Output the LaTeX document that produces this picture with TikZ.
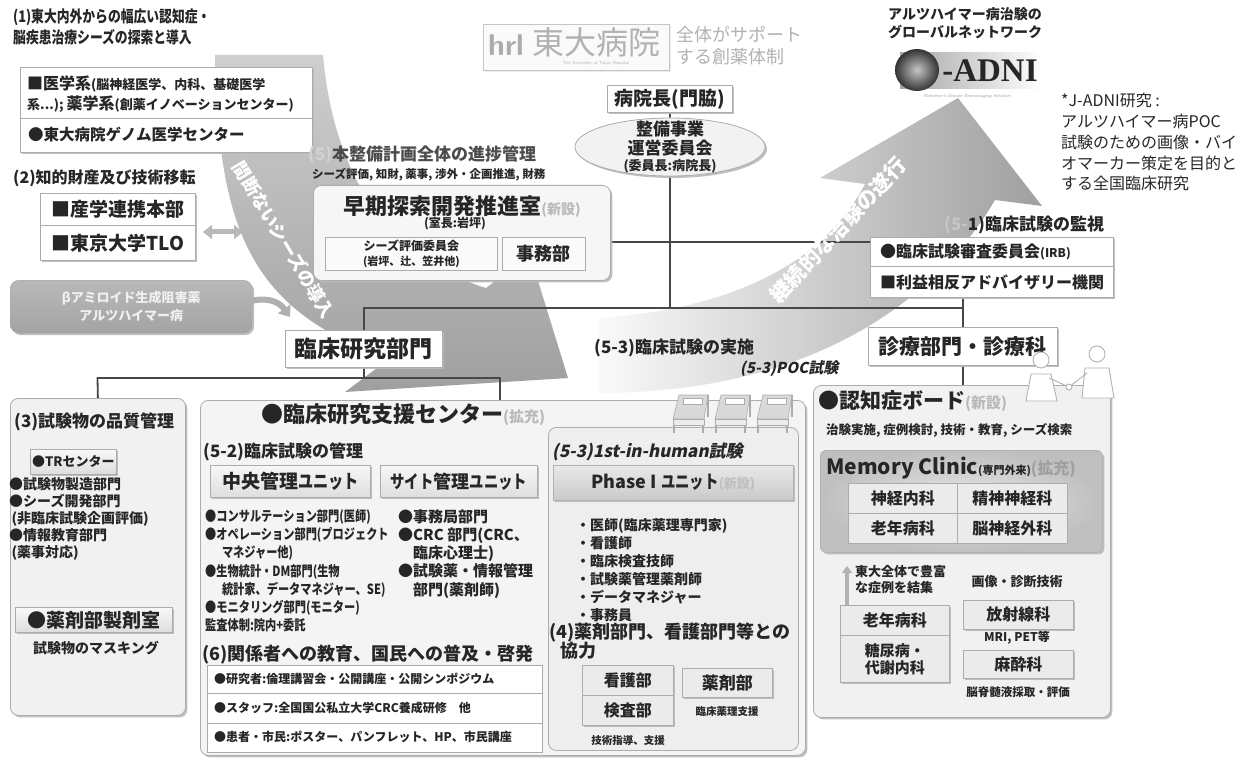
\documentclass[tikz,border=0pt]{standalone}
\usepackage{fontspec}
\setmainfont{Noto Sans CJK JP}
\newfontfamily\cjkn{Noto Sans CJK JP}[FakeStretch=0.8]
\newfontfamily\cjki{Noto Sans CJK JP}[FakeSlant=0.2]
\newfontfamily\logoserif{Liberation Serif}
\usetikzlibrary{shapes.geometric,shadows,arrows.meta,calc}
\newcommand\fz[1]{\fontsize{#1}{#1}\selectfont}
\pgfdeclarelayer{back}
\pgfdeclarelayer{links}
\pgfsetlayers{back,links,main}
\tikzset{
  bedicon/.pic={
    \filldraw[draw=gray!65,fill=gray!30,line width=0.6pt] (8,2) -- (37,2) -- (33,26) -- (2,26) -- cycle;
    \filldraw[draw=gray!65,fill=gray!15,line width=0.6pt] (2,26) rectangle (33,32);
    \draw[gray!65,line width=1.2pt] (3,32) -- (3,40) (32,32) -- (32,40) (37,2) -- (37,24);
    \filldraw[draw=gray!65,fill=white,line width=0.5pt] (12,5) rectangle (31,11);
  }
}
\begin{document}
\begin{tikzpicture}[x=1pt,y=-1pt,
  every node/.style={inner sep=0pt,text=black!85},
  bx/.style={draw=gray!65,line width=0.8pt,fill=white,anchor=north west},
  shd/.style={drop shadow={shadow xshift=2pt,shadow yshift=-2pt,fill=gray!55,opacity=0.9}},
  panel/.style={bx,rounded corners=8pt,fill=gray!11},
  cell/.style={bx,fill=gray!16},
  grad/.style={bx,top color=gray!6,bottom color=gray!26},
  orgline/.style={draw=black!72,line width=1.8pt},
  lbl/.style={anchor=west,font=\bfseries},
  ctr/.style={font=\bfseries},
  arrowtext/.style={font=\bfseries\fz{18},text=white},
]
\useasboundingbox (0,0) rectangle (1246,759);

% ---------- page and the two large curved arrows ----------
\begin{pgfonlayer}{back}
\fill[white] (0,0) rectangle (1246,759);
\shade[top color=gray!38,bottom color=gray!75]
  (215,55) -- (323,55) .. controls (335,190) and (400,262) .. (486,288)
  -- (530,255) -- (568,378) -- (345,392) -- (389,359)
  .. controls (250,310) and (218,230) .. (215,55) -- cycle;
\shade[left color=gray!4,right color=gray!75]
  (598,318) .. controls (720,310) and (820,270) .. (865,184)
  -- (820,178) -- (958,98) -- (1042,206) -- (995,200)
  .. controls (930,310) and (800,393) .. (598,393) -- cycle;
\end{pgfonlayer}

% ---------- headings, seeds ----------
\node[lbl,anchor=north west,align=left,font=\cjkn\bfseries\fontsize{16}{21}\selectfont] (head1) at (13,9)
  {(1)東大内外からの幅広い認知症・\\脳疾患治療シーズの探索と導入};
\node[bx,shd,minimum width=292,minimum height=51] (medA) at (20,67) {};
\node[bx,shd,minimum width=292,minimum height=34] (medB) at (20,118) {};
\node[lbl] (medAt1) at (27,84) {\fz{16}■医学系\fz{13}(脳神経医学、内科、基礎医学};
\node[lbl] (medAt2) at (27,104) {\fz{13}系...); \fz{16}薬学系\fz{13}(創薬イノベーションセンター)};
\node[lbl,font=\bfseries\fz{15.5}] (medBt) at (28,135) {●東大病院ゲノム医学センター};

\node[lbl,font=\bfseries\fz{16}] (head2) at (13,178) {(2)知的財産及び技術移転};
\node[bx,shd,minimum width=155,minimum height=32] (tlA) at (40,193) {};
\node[bx,shd,minimum width=155,minimum height=35] (tlB) at (40,225) {};
\node[ctr,font=\bfseries\fz{19}] (tlAt) at (tlA) {■産学連携本部};
\node[ctr,font=\bfseries\fz{19}] (tlBt) at (tlB) {■東京大学TLO};
\coordinate (dblL) at (203,232);
\coordinate (dblR) at (243,232);
\draw[{Triangle[length=9pt,width=14pt]}-{Triangle[length=9pt,width=14pt]},line width=5pt,gray!55] (dblL) -- (dblR);

\node[anchor=north west,rounded corners=9pt,minimum width=242,minimum height=53,
  top color=gray!55,bottom color=gray!72,draw=gray!70,shd] (abeta) at (10,280) {};
\node[font=\bfseries\fz{13},text=gray!12,align=center] (abetat) at (abeta) {βアミロイド生成阻害薬\\[3pt]アルツハイマー病};

\node[bx,shd,minimum width=157,minimum height=37] (rinsho) at (285,330) {};
\node[ctr,font=\bfseries\fz{23}] (rinshot) at (rinsho) {臨床研究部門};
\coordinate (abEnd) at (290,317);
\draw[-{Triangle[length=10pt,width=15pt]},line width=6pt,gray!62]
  ([yshift=6pt]abeta.east) .. controls (270,297) and (280,303) .. (abEnd);

% ---------- hospital logo, top management ----------
\node[bx,draw=gray!45,line width=0.6pt,fill=gray!4,minimum width=186,minimum height=46,
  drop shadow={shadow xshift=1.5pt,shadow yshift=-1.5pt,fill=gray!30}] (logo) at (483,24) {};
\node[font=\sffamily\bfseries\fz{30},text=gray!65] (logoh) at (506,45) {hrl};
\node[font=\fz{32},text=gray!60] (logot) at (596,42) {東大病院};
\node[font=\sffamily\fz{4.5},text=gray!60] (logos) at (596,63) {The University of Tokyo Hospital};
\node[anchor=north west,align=left,font=\fontsize{18}{22}\selectfont,text=gray!60] (slogan) at (676,26) {全体がサポート\\する創薬体制};

\node[bx,shd,minimum width=125,minimum height=27] (chief) at (607,85) {};
\node[ctr,font=\bfseries\fz{19}] (chieft) at (chief) {病院長(門脇)};
\node[ellipse,draw=gray!65,line width=0.8pt,fill=gray!10,minimum width=190,minimum height=58,shd] (council) at (670,147) {};
\node[ctr,font=\bfseries\fontsize{17}{19}\selectfont,align=center] (councilt) at (670,139) {整備事業\\運営委員会};
\node[ctr,font=\bfseries\fz{13}] (councils) at (670,166) {(委員長:病院長)};

\node[lbl,font=\bfseries\fz{17},text=black!70] (prog) at (308,155) {\textcolor{gray!35}{(5)}本整備計画全体の進捗管理};
\node[lbl,font=\bfseries\fz{11.5}] (progs) at (312,175) {シーズ評価, 知財, 薬事, 渉外・企画推進, 財務};

\node[panel,fill=gray!7,shd,minimum width=297,minimum height=95] (soki) at (313,185) {};
\node[ctr,font=\bfseries\fz{22}] (sokit) at (462,207) {早期探索開発推進室{\fz{14}\color{gray!55}(新設)}};
\node[ctr,font=\bfseries\fz{12}] (sokis) at (455,224) {(室長:岩坪)};
\node[bx,fill=gray!4,minimum width=172,minimum height=33] (seeds) at (325,237) {};
\node[ctr,font=\bfseries\fontsize{12}{15}\selectfont,align=center] (seedst) at (seeds) {シーズ評価委員会\\{\fz{11}(岩坪、辻、笠井他)}};
\node[bx,fill=gray!4,minimum width=83,minimum height=33] (jimu) at (502,237) {};
\node[ctr,font=\bfseries\fz{18}] (jimut) at (jimu) {事務部};

% ---------- monitoring, clinical departments ----------
\node[lbl,font=\bfseries\fz{17}] (irbh) at (944,225) {\textcolor{gray!45}{(5-}1)臨床試験の監視};
\node[bx,shd,minimum width=243,minimum height=29] (irbA) at (870,237) {};
\node[bx,shd,minimum width=243,minimum height=31] (irbB) at (870,266) {};
\node[lbl,font=\bfseries\fz{16}] (irbAt) at (880,252) {●臨床試験審査委員会{\fz{12}(IRB)}};
\node[lbl,font=\bfseries\fz{16}] (irbBt) at (880,282) {■利益相反アドバイザリー機関};

\node[bx,shd,minimum width=189,minimum height=38] (shinryo) at (868,327) {};
\node[ctr,font=\bfseries\fz{21}] (shinryot) at (shinryo) {診療部門・診療科};
\node[lbl,font=\bfseries\fz{17}] (conduct) at (594,348) {(5-3)臨床試験の実施};
\node[lbl,font=\cjki\bfseries\fz{15}] (poc) at (740,369) {(5-3)POC試験};

% ---------- ADNI ----------
\node[anchor=north west,align=left,font=\bfseries\fontsize{14}{18}\selectfont] (adnih) at (888,7) {アルツハイマー病治験の\\グローバルネットワーク};
\node[anchor=north west,minimum width=142,minimum height=36,left color=gray!70,right color=white] (adnibar) at (900,52) {};
\node[ellipse,minimum width=44,minimum height=42,inner color=gray!45,outer color=black!80] (adniface) at (917,70) {};
\node[font=\logoserif\bfseries\fz{33},text=black!85] (adnit) at (990,71) {-ADNI};
\node[font=\sffamily\itshape\fz{4.5},text=gray!70] (adnis) at (967,96) {Alzheimer's Disease Neuroimaging Initiative};
\node[anchor=north west,align=left,font=\fontsize{16}{20.8}\selectfont] (jadni) at (1061,93)
  {*J-ADNI研究 :\\アルツハイマー病POC\\試験のための画像・バイ\\オマーカー策定を目的と\\する全国臨床研究};

% ---------- (3) quality control ----------
\node[panel,shd,minimum width=175,minimum height=317] (qual) at (10,398) {};
\node[lbl,font=\bfseries\fz{17}] (qualh) at (14,422) {(3)試験物の品質管理};
\node[grad,shd,minimum width=86,minimum height=25] (trc) at (30,449) {};
\node[ctr,font=\bfseries\fz{13}] (trct) at (trc) {●TRセンター};
\node[anchor=north west,align=left,font=\bfseries\fontsize{14}{17}\selectfont] (quall) at (9,477)
  {●試験物製造部門\\●シーズ開発部門\\\,(非臨床試験企画評価)\\●情報教育部門\\\,(薬事対応)};
\node[grad,shd,minimum width=157,minimum height=25] (prep) at (15,607) {};
\node[ctr,font=\bfseries\fz{19}] (prept) at (prep) {●薬剤部製剤室};
\node[ctr,font=\bfseries\fz{14}] (mask) at (96,648) {試験物のマスキング};

% ---------- clinical research support center ----------
\node[panel,shd,fill=gray!9,minimum width=605,minimum height=355] (support) at (200,400) {};
\node[lbl,font=\bfseries\fz{22}] (supportt) at (261,415) {●臨床研究支援センター{\fz{15}\color{gray!55}(拡充)}};
\node[lbl,font=\bfseries\fz{17}] (mgmt) at (203,452) {(5-2)臨床試験の管理};
\node[grad,shd,minimum width=160,minimum height=32] (central) at (210,465) {};
\node[ctr,font=\bfseries\fz{19}] (centralt) at (central) {中央管理{\cjkn ユニット}};
\node[grad,shd,minimum width=157,minimum height=32] (site) at (380,465) {};
\node[ctr,font=\bfseries\fz{18}] (sitet) at (site) {{\cjkn サイト}管理{\cjkn ユニット}};
\node[anchor=north west,align=left,font=\cjkn\bfseries\fontsize{14}{18.3}\selectfont] (cenl) at (205,509)
  {●コンサルテーション部門(医師)\\●オペレーション部門(プロジェクト\\\hspace{1.2em}マネジャー他)\\●生物統計・DM部門(生物\\\hspace{1.2em}統計家、データマネジャー、SE)\\●モニタリング部門(モニター)\\監査体制:院内+委託};
\node[anchor=north west,align=left,font=\bfseries\fontsize{15}{18.3}\selectfont] (sitel) at (398,509)
  {●事務局部門\\●CRC 部門(CRC、\\\hspace{1em}臨床心理士)\\●試験薬・情報管理\\\hspace{1em}部門(薬剤師)};
\node[lbl,font=\bfseries\fz{18}] (edu) at (202,655) {(6)関係者への教育、国民への普及・啓発};
\node[bx,minimum width=335,minimum height=28] (eduA) at (207,665) {};
\node[bx,minimum width=335,minimum height=30] (eduB) at (207,693) {};
\node[bx,minimum width=335,minimum height=29] (eduC) at (207,723) {};
\node[lbl,font=\bfseries\fz{12}] (eduAt) at (214,679) {●研究者:倫理講習会・公開講座・公開シンポジウム};
\node[lbl,font=\bfseries\fz{12}] (eduBt) at (214,708) {●スタッフ:全国国公私立大学CRC養成研修\quad 他};
\node[lbl,font=\bfseries\fz{12}] (eduCt) at (214,737) {●患者・市民:ポスター、パンフレット、HP、市民講座};

% first-in-human unit
\node[panel,fill=gray!13,minimum width=250,minimum height=323] (fih) at (548,427) {};
\pic (bedA) at (671,393) {bedicon};
\pic (bedB) at (713,393) {bedicon};
\pic (bedC) at (755,393) {bedicon};
\node[lbl,font=\cjki\bfseries\fz{17}] (fihh) at (552,452) {(5-3)1st-in-human試験};
\node[anchor=north west,minimum width=240,minimum height=35,top color=gray!18,bottom color=gray!42,
  draw=gray!60,line width=0.8pt,shd] (phase) at (553,465) {};
\node[ctr,font=\bfseries\fz{18}] (phaset) at (phase) {Phase I {\cjkn ユニット}{\fz{13}\color{gray!50}(新設)}};
\node[anchor=north west,align=left,font=\bfseries\fontsize{14}{18}\selectfont] (fihl) at (576,518)
  {・医師(臨床薬理専門家)\\・看護師\\・臨床検査技師\\・試験薬管理薬剤師\\・データマネジャー\\・事務員};
\node[lbl,font=\bfseries\fz{18}] (coop) at (549,633) {(4)薬剤部門、看護部門等との};
\node[lbl,font=\bfseries\fz{18}] (coop2) at (560,651) {協力};
\node[cell,shd,minimum width=91,minimum height=30] (nurse) at (582,665) {};
\node[cell,shd,minimum width=91,minimum height=30] (lab) at (582,695) {};
\node[cell,shd,minimum width=90,minimum height=29] (pharm) at (682,668) {};
\node[ctr,font=\bfseries\fz{16}] (nurset) at (nurse) {看護部};
\node[ctr,font=\bfseries\fz{16}] (labt) at (lab) {検査部};
\node[ctr,font=\bfseries\fz{17}] (pharmt) at (pharm) {薬剤部};
\node[ctr,font=\bfseries\fz{10.5}] (pharms) at (727,712) {臨床薬理支援};
\node[ctr,font=\bfseries\fz{10.5}] (nurses) at (628,740) {技術指導、支援};

% ---------- dementia board ----------
\node[panel,shd,minimum width=297,minimum height=332] (dementia) at (813,385) {};
\node[lbl,font=\bfseries\fz{21}] (dementiat) at (818,401) {●認知症ボード{\fz{15}\color{gray!55}(新設)}};
\node[lbl,font=\bfseries\fz{12.5}] (dementias) at (826,430) {治験実施, 症例検討, 技術・教育, シーズ検索};
\node[anchor=north west,rounded corners=6pt,minimum width=282,minimum height=102,inner color=gray!18,
  outer color=gray!50,draw=gray!60,line width=0.8pt,shd] (mclinic) at (820,450) {};
\node[lbl,font=\bfseries\fz{21}] (mclinict) at (826,468) {Memory Clinic{\fz{11}(専門外来)}{\fz{16}\color{gray!75}(拡充)}};
\node[cell,minimum width=109,minimum height=30] (cA) at (848,483) {};
\node[cell,minimum width=110,minimum height=30] (cB) at (957,483) {};
\node[cell,minimum width=109,minimum height=30] (cC) at (848,513) {};
\node[cell,minimum width=110,minimum height=30] (cD) at (957,513) {};
\node[ctr,font=\bfseries\fz{16}] (cAt) at (cA) {神経内科};
\node[ctr,font=\bfseries\fz{16}] (cBt) at (cB) {精神神経科};
\node[ctr,font=\bfseries\fz{16}] (cCt) at (cC) {老年病科};
\node[ctr,font=\bfseries\fz{16}] (cDt) at (cD) {脳神経外科};

\node[cell,shd,minimum width=109,minimum height=30] (geri) at (840,605) {};
\node[cell,shd,minimum width=109,minimum height=47] (diab) at (840,635) {};
\node[ctr,font=\bfseries\fz{16}] (gerit) at (geri) {老年病科};
\node[ctr,font=\bfseries\fontsize{15}{17}\selectfont,align=center] (diabt) at (diab) {糖尿病・\\代謝内科};
\coordinate (upTip) at (847,566);
\draw[-{Triangle[length=7pt,width=10pt]},line width=4pt,gray!60] ([xshift=7pt]geri.north west) -- (upTip);
\node[anchor=north west,align=left,font=\bfseries\fontsize{13}{16}\selectfont] (gather) at (855,565) {東大全体で豊富\\な症例を結集};
\node[ctr,font=\bfseries\fz{13}] (imaging) at (1017,582) {画像・診断技術};
\node[cell,shd,minimum width=110,minimum height=29] (radio) at (963,600) {};
\node[ctr,font=\bfseries\fz{16}] (radiot) at (radio) {放射線科};
\node[ctr,font=\bfseries\fz{12}] (mri) at (1017,638) {MRI, PET等};
\node[cell,shd,minimum width=110,minimum height=28] (anes) at (963,650) {};
\node[ctr,font=\bfseries\fz{16}] (anest) at (anes) {麻酔科};
\node[ctr,font=\bfseries\fz{11.5}] (csf) at (1018,692) {脳脊髄液採取・評価};

% two doctors shaking hands
\begin{scope}[draw=gray!60,line width=0.9pt]
  \filldraw[fill=white] (1026,401) -- (1031,374) -- (1051,374) -- (1057,401) -- cycle;
  \filldraw[fill=white] (1041,360) circle (8);
  \filldraw[fill=white] (1082,398) -- (1085,368) -- (1109,368) -- (1114,398) -- cycle;
  \filldraw[fill=white] (1097,354) circle (8);
  \draw (1049,378) -- (1069,387) -- (1087,373);
  \filldraw[fill=white] (1069,387) circle (3);
\end{scope}

% ---------- organisation lines and arrow captions ----------
\begin{pgfonlayer}{links}
\coordinate (midbus) at (670,308);
\coordinate (h242) at (0,242);
\coordinate (busL) at (97.5,378);
\coordinate (busR) at (500,378);
\draw[orgline] (chief.south) -- (council.north);
\draw[orgline] (council.south) -- (midbus);
\draw[orgline] (soki.east |- h242) -- (irbA.west |- h242);
\draw[orgline] (rinsho.north) |- (shinryo.north |- midbus);
\draw[orgline] (irbB.south -| shinryo.north) -- (shinryo.north);
\draw[orgline] (shinryo.south) -- (shinryo.south |- dementia.north);
\draw[orgline] (qual.north) -- (busL) -- (busR) -- (busR |- support.north);
\draw[orgline] (rinsho.south) -- (rinsho.south |- busL);
\node[arrowtext,rotate=-59] (seedflow) at (284,240) {間断ないシーズの導入};
\node[arrowtext,font=\bfseries\fz{21},rotate=47] (trialflow) at (838,230) {継続的な治験の遂行};
\end{pgfonlayer}
\end{tikzpicture}
\end{document}
